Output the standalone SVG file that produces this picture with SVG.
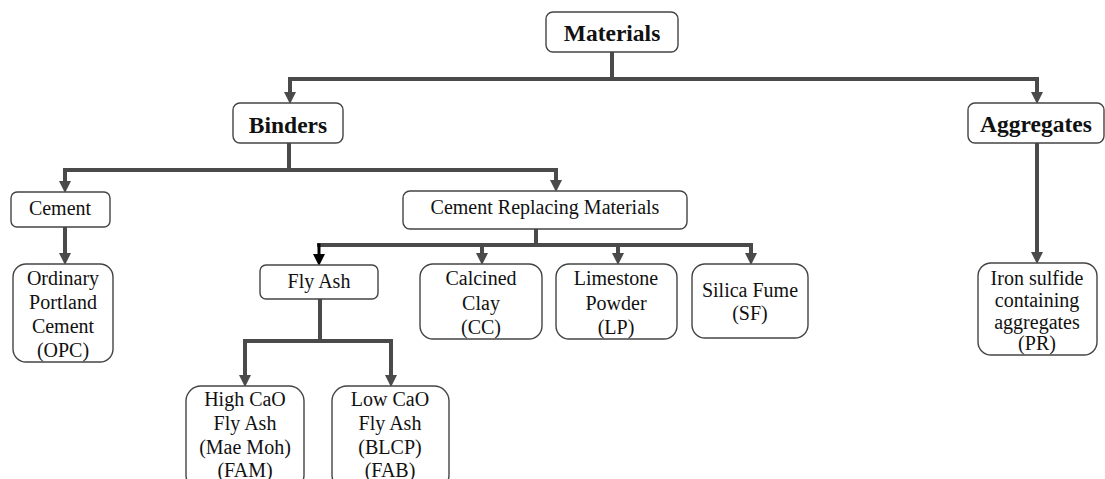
<svg xmlns="http://www.w3.org/2000/svg" width="1105" height="479" viewBox="0 0 1105 479">
<style>
.box{fill:#fff;stroke:#444;stroke-width:1.4}
.t{font-family:"Liberation Serif","Times New Roman",serif;font-size:20px;fill:#111;text-anchor:middle}
.b{font-weight:bold;font-size:23.5px}
.c{fill:none;stroke:#4a4a4a;stroke-width:4;stroke-linejoin:miter}
.k{fill:none;stroke:#000;stroke-width:3}
</style>
<defs>
<marker id="ah" markerUnits="userSpaceOnUse" markerWidth="12" markerHeight="12" viewBox="0 0 10 10" refX="0" refY="5" orient="auto">
<path d="M0,0 L10,5 L0,10 z" fill="#4a4a4a"/>
</marker>
<marker id="ahk" markerUnits="userSpaceOnUse" markerWidth="12" markerHeight="12" viewBox="0 0 10 10" refX="0" refY="5" orient="auto">
<path d="M0,0 L10,5 L0,10 z" fill="#000"/>
</marker>
</defs>
<rect width="1105" height="479" fill="#fff"/>
<g id="connectors">
<path class="c" d="M612,52 V79 H290 V92" marker-end="url(#ah)"/>
<path class="c" d="M612,79 H1037 V92" marker-end="url(#ah)"/>
<path class="c" d="M289,143 V170 H65 V181" marker-end="url(#ah)"/>
<path class="c" d="M289,170 H556 V180" marker-end="url(#ah)"/>
<path class="c" d="M65,227 V253" marker-end="url(#ah)"/>
<path class="c" d="M536,229 V245 H751 V253" marker-end="url(#ah)"/>
<path class="c" d="M536,245 H317"/>
<path class="k" d="M319,243.5 V254" marker-end="url(#ahk)"/>
<path class="c" d="M482,245 V253" marker-end="url(#ah)"/>
<path class="c" d="M618,245 V253" marker-end="url(#ah)"/>
<path class="c" d="M320,299 V341 H245 V375" marker-end="url(#ah)"/>
<path class="c" d="M320,341 H391 V375" marker-end="url(#ah)"/>
<path class="c" d="M1037,143 V252" marker-end="url(#ah)"/>
</g>
<g id="materials"><rect class="box" x="546" y="12" width="132" height="40" rx="7"/><text class="t b" x="612" y="41">Materials</text></g>
<g id="binders"><rect class="box" x="233" y="103" width="110" height="40" rx="7"/><text class="t b" x="288" y="133">Binders</text></g>
<g id="aggregates"><rect class="box" x="968" y="103" width="136" height="40" rx="7"/><text class="t b" x="1036" y="132">Aggregates</text></g>
<g id="cement"><rect class="box" x="11" y="192" width="99" height="35" rx="6"/><text class="t" x="60" y="215">Cement</text></g>
<g id="crm"><rect class="box" x="403" y="191" width="284" height="38" rx="7"/><text class="t" x="545" y="214">Cement Replacing Materials</text></g>
<g id="opc"><rect class="box" x="13" y="264" width="100" height="98" rx="13"/><text class="t" x="63" y="285">Ordinary</text><text class="t" x="63" y="309">Portland</text><text class="t" x="63" y="333">Cement</text><text class="t" x="63" y="357">(OPC)</text></g>
<g id="flyash"><rect class="box" x="260" y="265" width="118" height="34" rx="6"/><text class="t" x="319" y="288">Fly Ash</text></g>
<g id="cc"><rect class="box" x="420" y="264" width="122" height="75" rx="13"/><text class="t" x="481" y="285">Calcined</text><text class="t" x="481" y="310">Clay</text><text class="t" x="481" y="334">(CC)</text></g>
<g id="lp"><rect class="box" x="556" y="264" width="121" height="75" rx="13"/><text class="t" x="616" y="285">Limestone</text><text class="t" x="616" y="310">Powder</text><text class="t" x="616" y="334">(LP)</text></g>
<g id="sf"><rect class="box" x="692" y="264" width="116" height="74" rx="13"/><text class="t" x="750" y="297">Silica Fume</text><text class="t" x="750" y="320">(SF)</text></g>
<g id="fam"><rect class="box" x="186" y="386" width="118" height="104" rx="15"/><text class="t" x="245" y="406">High CaO</text><text class="t" x="245" y="430">Fly Ash</text><text class="t" x="245" y="454">(Mae Moh)</text><text class="t" x="245" y="477">(FAM)</text></g>
<g id="fab"><rect class="box" x="332" y="386" width="117" height="104" rx="15"/><text class="t" x="390" y="406">Low CaO</text><text class="t" x="390" y="430">Fly Ash</text><text class="t" x="390" y="454">(BLCP)</text><text class="t" x="390" y="477">(FAB)</text></g>
<g id="pr"><rect class="box" x="978" y="263" width="119" height="92" rx="13"/><text class="t" x="1037" y="285">Iron sulfide</text><text class="t" x="1037" y="307">containing</text><text class="t" x="1037" y="329">aggregates</text><text class="t" x="1037" y="350">(PR)</text></g>
</svg>
